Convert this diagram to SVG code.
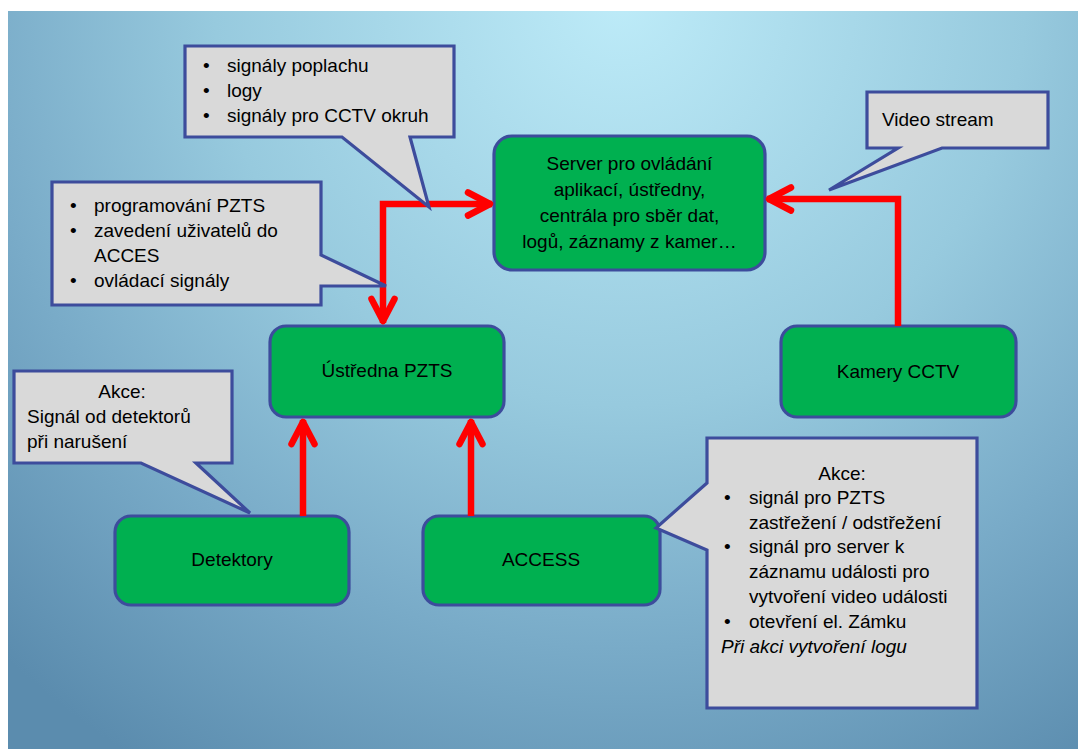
<svg xmlns="http://www.w3.org/2000/svg" width="1078" height="749" viewBox="0 0 1078 749">
  <defs>
    <radialGradient id="bg" gradientUnits="userSpaceOnUse" cx="620" cy="0" r="900">
      <stop offset="0" stop-color="#bdebf8"/>
      <stop offset="0.45" stop-color="#97cade"/>
      <stop offset="0.72" stop-color="#79abc8"/>
      <stop offset="1" stop-color="#5b8cae"/>
    </radialGradient>
    <marker id="arr" markerUnits="userSpaceOnUse" orient="auto-start-reverse" refX="0" refY="0" markerWidth="40" markerHeight="40" overflow="visible">
      <path d="M-24,-11.5 L-2,0 L-24,11.5" fill="none" stroke="#ff0000" stroke-width="6.5" stroke-linecap="round" stroke-linejoin="round"/>
    </marker>
    <style>
      .node { fill: #00b050; stroke: #3d4c9c; stroke-width: 3.2; }
      .callout { fill: #d9d9d9; stroke: #3d4c9c; stroke-width: 3.2; stroke-linejoin: miter; }
      .wire { fill: none; stroke: #ff0000; stroke-width: 6.5; stroke-linejoin: miter; marker-end: url(#arr); }
      text { font-family: "Liberation Sans", Arial, sans-serif; font-size: 19px; fill: #000000; }
      .c { text-anchor: middle; }
      .it { font-style: italic; }
    </style>
  </defs>

  <!-- page and backdrop -->
  <rect x="0" y="0" width="1078" height="749" fill="#ffffff"/>
  <rect x="8" y="11" width="1070" height="738" fill="url(#bg)"/>

  <!-- boxes -->
  <g id="server">
    <rect class="node" x="494" y="136" width="271" height="134" rx="18"/>
    <text class="c" x="629.5" y="170">Server pro ovládání</text>
    <text class="c" x="629.5" y="196">aplikací, ústředny,</text>
    <text class="c" x="629.5" y="222">centrála pro sběr dat,</text>
    <text class="c" x="629.5" y="248">logů, záznamy z kamer…</text>
  </g>
  <g id="ustredna">
    <rect class="node" x="270" y="326" width="234" height="91" rx="16"/>
    <text class="c" x="387" y="377">Ústředna PZTS</text>
  </g>
  <g id="kamery">
    <rect class="node" x="781" y="326" width="235" height="91" rx="16"/>
    <text class="c" x="898" y="378">Kamery CCTV</text>
  </g>
  <g id="detektory">
    <rect class="node" x="115" y="516" width="234" height="89" rx="16"/>
    <text class="c" x="232" y="566">Detektory</text>
  </g>
  <g id="access">
    <rect class="node" x="423" y="516" width="237" height="89" rx="16"/>
    <text class="c" x="541" y="566">ACCESS</text>
  </g>

  <!-- connectors -->
  <g id="connectors">
    <path class="wire" d="M383,323 V204 H492" marker-start="url(#arr)"/>
    <path class="wire" d="M898,326 V199 H767"/>
    <path class="wire" d="M303,516 V420"/>
    <path class="wire" d="M471,516 V420"/>
  </g>

  <!-- callouts -->
  <g id="callout-signaly">
    <path class="callout" d="M185,46 H454 V137 H410 L429,207 L342,137 H185 Z"/>
    <text x="203" y="72">•</text><text x="227" y="72">signály poplachu</text>
    <text x="203" y="97">•</text><text x="227" y="97">logy</text>
    <text x="203" y="122">•</text><text x="227" y="122">signály pro CCTV okruh</text>
  </g>
  <g id="callout-programovani">
    <path class="callout" d="M52,182 H321 V255 L386,286 H321 V305 H52 Z"/>
    <text x="70" y="212">•</text><text x="94" y="212">programování PZTS</text>
    <text x="70" y="237">•</text><text x="94" y="237">zavedení uživatelů do</text>
    <text x="94" y="262">ACCES</text>
    <text x="70" y="287">•</text><text x="94" y="287">ovládací signály</text>
  </g>
  <g id="callout-video">
    <path class="callout" d="M867,92 H1048 V148 H942 L829,190 L898,148 H867 Z"/>
    <text x="882" y="126">Video stream</text>
  </g>
  <g id="callout-detektory">
    <path class="callout" d="M14,371 H232 V463 H196 L250,513 L141,463 H14 Z"/>
    <text class="c" x="122" y="398">Akce:</text>
    <text x="27" y="423">Signál od detektorů</text>
    <text x="27" y="448">při narušení</text>
  </g>
  <g id="callout-access">
    <path class="callout" d="M707,438 H977 V708 H707 V550 L656,528 L707,483 Z"/>
    <text class="c" x="842" y="480">Akce:</text>
    <text x="724" y="504">•</text><text x="749" y="504">signál pro PZTS</text>
    <text x="749" y="529">zastřežení / odstřežení</text>
    <text x="724" y="553">•</text><text x="749" y="553">signál pro server k</text>
    <text x="749" y="578">záznamu události pro</text>
    <text x="749" y="603">vytvoření video události</text>
    <text x="724" y="628">•</text><text x="749" y="628">otevření el. Zámku</text>
    <text class="it" x="721" y="653">Při akci vytvoření logu</text>
  </g>
</svg>
